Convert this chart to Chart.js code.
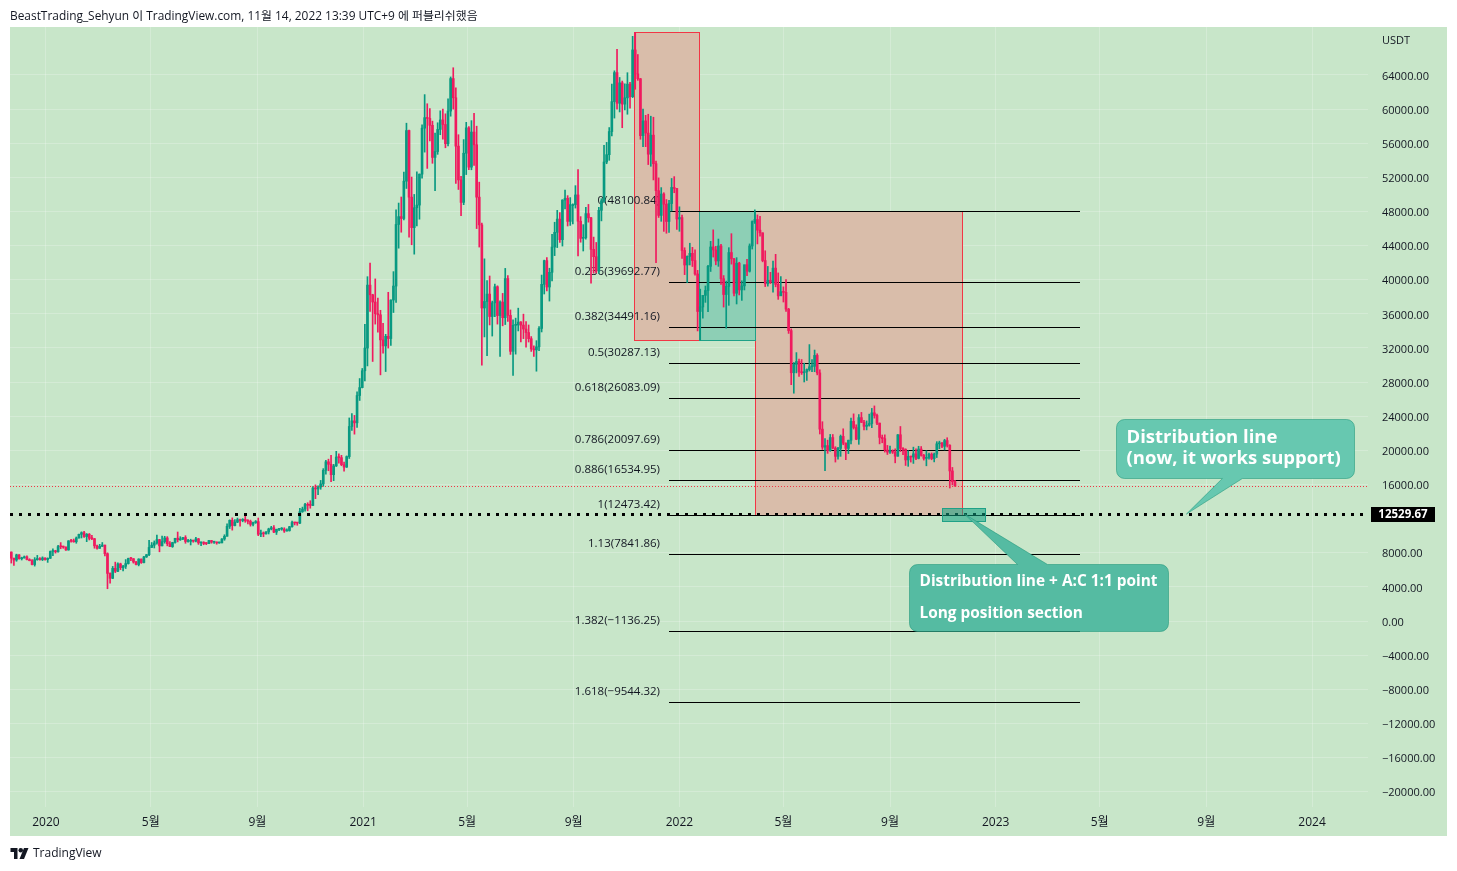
<!DOCTYPE html>
<html><head><meta charset="utf-8">
<script src="https://cdn.jsdelivr.net/npm/chart.js@4.4.1/dist/chart.umd.min.js"></script>
<style>
html,body{margin:0;padding:0;background:#fff;width:1457px;height:871px;overflow:hidden;}
#wrap{position:relative;width:1457px;height:871px;}
canvas{position:absolute;left:0;top:0;}
#title{position:absolute;left:10px;top:7px;font:11.9px "Open Sans","Noto Sans CJK KR",sans-serif;color:#131722;white-space:nowrap;line-height:16px;}
#foot{position:absolute;left:10px;top:845px;font:12px "Open Sans",sans-serif;color:#131722;display:flex;align-items:center;gap:4px;line-height:16px;}
</style></head><body>
<div id="wrap"><canvas id="c" width="1457" height="871"></canvas>
<div id="title">BeastTrading_Sehyun 이 TradingView.com, 11월 14, 2022 13:39 UTC+9 에 퍼블리쉬했음</div>
<div id="foot"><svg width="19" height="11" viewBox="0 0 36 22"><path d="M14 22H7V8H0V0h14z" fill="#131722"/><circle cx="20.5" cy="4.5" r="4.5" fill="#131722"/><path d="M27 22h-9L27 0h9z" fill="#131722"/></svg><span>TradingView</span></div>
</div>
<script>
// ---- DATA (3-day candles, BTC/USDT) ----
const firstCandle = '2019-11-21';
const candleSpan = 3;
const openP = [8080,7360,7150,7750,7300,7390,7520,7200,7070,6620,
7190,7320,7190,7390,7200,7350,8150,8190,8110,8720,
8700,8660,8330,9390,9350,9290,9730,10160,10350,9900,
10170,9690,9650,8810,8520,8750,8900,7890,5580,5010,
6170,5830,6690,6250,6410,6730,7330,7300,6910,6620,
7260,6850,7510,7770,8620,8890,9150,9540,8810,9310,
9730,9060,8720,9200,9700,9520,9620,9780,9320,9340,
9460,9360,9630,9160,9190,9090,9070,9430,9240,9250,
9150,9160,9610,9930,11100,11800,11190,11590,11880,11780,
11910,11750,11680,11330,11540,11650,10170,10250,10220,10440,
10790,10930,10420,10740,10770,10780,10550,10600,11050,11540,
11500,11480,12820,13120,13650,13560,13550,15590,15480,15700,
16070,17660,18660,18370,17150,18180,19220,19150,18320,18040,
19270,22800,23460,23230,26430,27360,29330,31990,39370,38240,
37390,36020,35890,32950,32250,33370,33110,37620,39260,46480,
47400,47180,51550,57490,49680,46110,48440,48750,52380,57770,
59000,58910,58100,54340,55030,57620,58730,58200,55950,59770,
63580,61330,55660,51700,49070,54830,57800,53200,57310,55820,
49680,46430,36690,37450,38320,35690,37300,39180,35800,37390,
35550,40140,35820,31610,34660,34700,35040,34690,34220,33810,
33090,31880,31780,32140,34290,39460,42240,39150,40870,43830,
45560,47110,44700,49340,49550,46840,48810,48810,49940,46860,
44850,44940,47750,47260,43560,42700,41030,48140,49250,53800,
54660,57370,60880,64280,60690,63080,60590,61320,62930,61460,
66940,64130,63560,56890,58620,57190,54720,56950,53600,50440,
47540,50050,48860,46830,48930,50820,50700,47120,47290,43430,
41730,42740,43100,42250,40680,36280,36810,38170,38740,41570,
43840,43500,42200,43960,40120,38270,39220,43190,42450,38420,
41940,38810,39280,41760,41000,43960,46820,47060,45810,45500,
42250,39530,39940,39680,41360,39460,38110,38600,38520,36550,
34040,29100,30080,30420,29200,29100,29200,29470,29800,29860,
31130,29080,22490,20380,20560,19970,21500,20280,19300,20230,
21640,20850,20230,21190,23400,22680,21310,23840,23290,22820,
22950,23150,24400,24100,23190,21520,21370,20040,19800,19950,
19800,19320,21830,20230,20110,18880,19290,19220,19590,19060,
20160,19420,19060,19180,19550,19040,19570,20770,20820,20480,
21150,20590,17590,16330];
const highP = [8100,7380,7830,7800,7480,7620,7650,7300,7200,7430,
7690,7440,7520,7400,7400,8210,8460,8290,8880,9190,
8780,8680,9420,9570,9610,9850,10180,10450,10500,10250,
10250,10030,9680,8900,8990,9200,8900,7990,5660,6400,
6900,6830,6780,6520,7200,7370,7460,7320,6990,7300,
7270,7570,7800,9460,9200,9390,10070,9570,9940,9930,
9890,9310,9230,9700,10430,9880,9800,10000,9580,9590,
9480,9800,9680,9240,9300,9200,9470,9450,9340,9270,
9250,9650,10110,11390,11860,12090,11900,12070,11940,12000,
12470,11880,11830,11590,11780,12070,10660,10440,10480,10880,
11100,11180,10770,10800,10950,10930,10800,11100,11720,11560,
11540,13220,13350,13790,13860,14100,15770,15960,15840,16480,
17860,18820,18970,19420,18360,19890,19600,19420,18640,19350,
23800,24300,24100,26870,28420,29600,34780,40360,41950,38300,
40100,37850,36420,34880,33600,38530,37660,40950,48200,48990,
49700,52620,58350,57530,52040,50000,52640,52400,58150,61700,
60630,60070,58590,57200,58400,59800,60000,59450,61200,63770,
64850,62500,57000,52130,56430,58450,57950,58650,59500,58000,
51440,46640,42450,39900,40440,37500,39480,39290,37530,38400,
41330,40500,36460,35300,35500,36670,35100,35970,35100,34700,
33340,32250,32860,34500,40550,42300,42600,41350,45310,46740,
48140,47880,49380,50500,49860,49630,48910,51030,52920,47400,
46460,48480,48830,47330,45000,44370,48500,49500,55750,56100,
57840,62930,64490,67000,63710,63290,62960,64270,63130,68530,
69000,66400,63600,60000,59270,59400,59170,59050,53900,51940,
50800,50200,49400,49300,51870,52090,50700,48550,47570,43750,
42800,44280,43800,43500,41100,38900,38030,39270,41700,44500,
45850,43920,44770,44150,40490,39840,43760,45400,42500,42590,
42050,39880,41720,42400,44200,46900,48190,47600,47440,45500,
43400,41560,40870,42200,42980,40800,40370,39170,40020,36650,
34240,30300,31460,30700,30650,30220,29550,32400,30650,31760,
31330,29450,23360,21370,21200,21870,21860,20430,20350,21800,
22530,20880,21200,23800,24280,23000,24200,24450,23510,23450,
24250,24920,25210,24240,23210,21800,21820,20580,20490,20060,
20180,21860,22800,20330,20190,19960,19320,20380,20180,20480,
20450,19530,19950,19670,19700,19690,21020,21080,20930,21300,
21480,20670,18000,16500];
const lowP = [6790,6515,7000,7250,7150,7370,7150,7050,6560,6435,
7120,7120,7080,7120,6870,7330,7670,7960,8080,8470,
8520,8260,8300,9230,9230,9110,9700,9730,9790,9300,
9500,9530,8530,8410,8510,8730,7630,3782,4440,4960,
5670,5770,6020,5860,6150,6670,7080,6780,6560,6460,
6750,6820,7450,7660,8610,8560,9020,8110,8790,9120,
8810,8700,8630,9110,9270,9450,9530,9110,9240,8910,
9230,9270,8980,8830,8940,8950,9050,9120,9100,9000,
9100,9150,9460,9930,10840,10650,11140,11530,11130,11630,
11570,11370,11120,11150,11440,10000,9880,9880,10180,10200,
10680,10360,10140,10590,10640,10380,10520,10530,11010,11260,
11220,11410,12730,12880,12920,13220,13520,14340,14800,15440,
15790,17210,17610,16330,16450,18110,18510,18200,17570,18000,
19050,22350,21900,22700,25850,27320,28130,29900,36300,30420,
34800,33850,28850,31390,29240,31990,32300,36160,37350,43700,
45570,47000,50700,45000,44100,43000,46300,47100,51900,54960,
53050,56270,53650,50430,54700,57000,56480,55470,55700,59170,
60000,51300,50580,47500,48800,52330,52900,52890,53400,46000,
43830,30000,33300,31100,34700,33400,35670,34800,31000,34600,
34750,35130,31250,28800,31280,34000,32700,33100,32100,32700,
31600,31020,29280,31700,33880,38330,38700,37500,39850,42830,
43770,44380,43950,48300,46300,46370,46530,48400,42800,44400,
43370,44750,46750,39600,40770,40800,40750,46900,49050,53600,
54000,56850,58950,60000,59670,57820,59920,59400,60100,61350,
62330,63370,56470,55600,55600,53500,53300,51700,42000,47300,
46850,45670,45450,45550,48050,50200,45900,45680,42500,40600,
39650,41730,41550,40550,34000,32920,35500,37350,36250,40970,
42660,41750,41570,39450,36800,34320,37000,41830,38100,37160,
38220,37580,38800,40470,40900,43600,46600,44200,45120,42100,
39200,39250,39550,38540,39170,37700,38180,37390,36300,33710,
27700,26700,29080,28680,28900,28020,28200,29300,29220,29220,
28850,21920,20110,17620,19650,19890,20180,18630,18970,19300,
20660,18910,19620,20760,22500,21250,20710,23250,22410,22400,
22840,22660,23780,23000,20760,20890,19800,19520,19640,19640,
18540,19310,19860,19500,18230,18130,18630,18470,18920,19000,
19320,18860,18190,18970,18900,18650,19160,20200,20330,20050,
20390,15590,15950,15820];
const closeP = [7360,7150,7750,7300,7390,7520,7200,7070,6620,7190,
7320,7190,7390,7200,7350,8150,8190,8110,8720,8700,
8660,8330,9390,9350,9290,9730,10160,10350,9900,10170,
9690,9650,8810,8520,8750,8900,7890,5580,5010,6170,
5830,6690,6250,6410,6730,7330,7300,6910,6620,7260,
6850,7510,7770,8620,8890,9150,9540,8810,9310,9730,
9060,8720,9200,9700,9520,9620,9780,9320,9340,9460,
9360,9630,9160,9190,9090,9070,9430,9240,9250,9150,
9160,9610,9930,11100,11800,11190,11590,11880,11780,11910,
11750,11680,11330,11540,11650,10170,10250,10220,10440,10790,
10930,10420,10740,10770,10780,10550,10600,11050,11540,11500,
11480,12820,13120,13650,13560,13550,15590,15480,15700,16070,
17660,18660,18370,17150,18180,19220,19150,18320,18040,19270,
22800,23460,23230,26430,27360,29330,31990,39370,38240,37390,
36020,35890,32950,32250,33370,33110,37620,39260,46480,47400,
47180,51550,57490,49680,46110,48440,48750,52380,57770,59000,
58910,58100,54340,55030,57620,58730,58200,55950,59770,63580,
61330,55660,51700,49070,54830,57800,53200,57310,55820,49680,
46430,36690,37450,38320,35690,37300,39180,35800,37390,35550,
40140,35820,31610,34660,34700,35040,34690,34220,33810,33090,
31880,31780,32140,34290,39460,42240,39150,40870,43830,45560,
47110,44700,49340,49550,46840,48810,48810,49940,46860,44850,
44940,47750,47260,43560,42700,41030,48140,49250,53800,54660,
57370,60880,64280,60690,63080,60590,61320,62930,61460,66940,
64130,63560,56890,58620,57190,54720,56950,53600,50440,47540,
50050,48860,46830,48930,50820,50700,47120,47290,43430,41730,
42740,43100,42250,40680,36280,36810,38170,38740,41570,43840,
43500,42200,43960,40120,38270,39220,43190,42450,38420,41940,
38810,39280,41760,41000,43960,46820,47060,45810,45500,42250,
39530,39940,39680,41360,39460,38110,38600,38520,36550,34040,
29100,30080,30420,29200,29100,29200,29470,29800,29860,31130,
29080,22490,20380,20560,19970,21500,20280,19300,20230,21640,
20850,20230,21190,23400,22680,21310,23840,23290,22820,22950,
23150,24400,24100,23190,21520,21370,20040,19800,19950,19800,
19320,21830,20230,20110,18880,19290,19220,19590,19060,20160,
19420,19060,19180,19550,19040,19570,20770,20820,20480,21150,
20590,17590,16330,15800];

const lastPrice = 15800;
const distributionPrice = 12529.67;

const xTickDates = ['2020-01-01','2020-05-01','2020-09-01','2021-01-01','2021-05-01','2021-09-01','2022-01-01','2022-05-01','2022-09-01','2023-01-01','2023-05-01','2023-09-01','2024-01-01'];
const xTickLabels = ['2020','5월','9월','2021','5월','9월','2022','5월','9월','2023','5월','9월','2024'];
const yTickValues = [64000,60000,56000,52000,48000,44000,40000,36000,32000,28000,24000,20000,16000,8000,4000,0,-4000,-8000,-12000,-16000,-20000];

const fibLevels = ['0','0.236','0.382','0.5','0.618','0.786','0.886','1','1.13','1.382','1.618'];
const fibPrices = [48100.84,39692.77,34491.16,30287.13,26083.09,20097.69,16534.95,12473.42,7841.86,-1136.25,-9544.32];
const fibFrom = '2021-12-20', fibTo = '2023-04-08';

const boxes = [
  {from:'2021-11-10', to:'2022-01-24', top:69000, bottom:32950, kind:'red'},
  {from:'2022-03-29', to:'2022-11-23', top:48100.84, bottom:12473.42, kind:'red'},
  {from:'2022-01-24', to:'2022-03-29', top:48100.84, bottom:32950, kind:'green'},
];
const zoneBox = {from:'2022-10-31', to:'2022-12-20', top:13245, bottom:11722};

const callouts = [
  {date:'2023-08-09', price:12529.67, lines:['Distribution line','(now, it works support)']},
  {date:'2022-11-26', price:12529.67, lines:['Distribution line + A:C 1:1 point','Long position section']},
];

// ---- helpers / styles ----
const DAY0 = Date.UTC(2020,0,1);
function dayNum(s){const p=s.split('-').map(Number);return Math.round((Date.UTC(p[0],p[1]-1,p[2])-DAY0)/864e5);}
const candleX = openP.map((_,i)=>dayNum(firstCandle)+candleSpan*i+1);
const UP='#089981', DOWN='#F01A5E', BG='#C8E6C9', TXT='#131722';
const FONT = "'Open Sans','Noto Sans CJK KR',sans-serif";
const minusFix = s => s.replace('-', '\u2212');
const colorFor = i => closeP[i] >= openP[i] ? UP : DOWN;

const calloutStyle = [
  {box:[-70,-95,168,-36], tail:[36,56], side:'bottom', fill:'#67C8B0', font:'bold 18.5px '+FONT, rows:[18,39], pad:10},
  {box:[-56,50,203,117], tail:[53,83], side:'top', fill:'#55BBA2', font:'bold 15.4px '+FONT, rows:[17,49], pad:10},
];

function calloutPath(ctx,l,t,r,b,rad,side,t1,t2,tx,ty){
  ctx.beginPath();
  ctx.moveTo(l+rad,t);
  if(side==='top'){ctx.lineTo(t1,t);ctx.lineTo(tx,ty);ctx.lineTo(t2,t);}
  ctx.lineTo(r-rad,t);ctx.arcTo(r,t,r,t+rad,rad);
  ctx.lineTo(r,b-rad);ctx.arcTo(r,b,r-rad,b,rad);
  if(side==='bottom'){ctx.lineTo(t2,b);ctx.lineTo(tx,ty);ctx.lineTo(t1,b);}
  ctx.lineTo(l+rad,b);ctx.arcTo(l,b,l,b-rad,rad);
  ctx.lineTo(l,t+rad);ctx.arcTo(l,t,l+rad,t,rad);
  ctx.closePath();
}

const drawings = {
  id:'drawings',
  beforeDraw(chart){
    const c=chart.ctx; c.save(); c.fillStyle=BG; c.fillRect(10,27,1437,809); c.restore();
  },
  beforeDatasetsDraw(chart){
    const {ctx, chartArea:a, scales:{x,y}} = chart;
    ctx.save();
    ctx.beginPath(); ctx.rect(a.left,a.top,a.right-a.left,a.bottom-a.top); ctx.clip();
    boxes.forEach(b=>{
      const x1=Math.round(x.getPixelForValue(dayNum(b.from))), x2=Math.round(x.getPixelForValue(dayNum(b.to)));
      const y1=Math.round(y.getPixelForValue(b.top)), y2=Math.round(y.getPixelForValue(b.bottom));
      ctx.fillStyle = b.kind==='red' ? '#D9BDAA' : '#8DCFB5';
      ctx.fillRect(x1,y1,x2-x1,y2-y1);
      ctx.strokeStyle = b.kind==='red' ? '#F23645' : '#1FA187';
      ctx.lineWidth=1;
      ctx.strokeRect(x1+0.5,y1+0.5,x2-x1,y2-y1);
    });
    const fx1=Math.round(x.getPixelForValue(dayNum(fibFrom))), fx2=Math.round(x.getPixelForValue(dayNum(fibTo)));
    ctx.font = '11.5px '+FONT; ctx.fillStyle=TXT; ctx.textAlign='right'; ctx.textBaseline='middle';
    fibPrices.forEach((p,i)=>{
      const py=Math.round(y.getPixelForValue(p))+0.5;
      ctx.strokeStyle='#000'; ctx.lineWidth=1;
      ctx.beginPath(); ctx.moveTo(fx1,py); ctx.lineTo(fx2,py); ctx.stroke();
      ctx.fillText(fibLevels[i]+'('+minusFix(p.toFixed(2))+')', fx1-9, py-10.5);
    });
    ctx.restore();
  },
  afterDatasetsDraw(chart){
    const {ctx, chartArea:a, scales:{x,y}} = chart;
    ctx.save();
    const lp=Math.round(y.getPixelForValue(lastPrice))+0.5;
    ctx.strokeStyle='#F23645'; ctx.lineWidth=1; ctx.setLineDash([1,2]);
    ctx.beginPath(); ctx.moveTo(a.left,lp); ctx.lineTo(a.right,lp); ctx.stroke();
    const dp=Math.round(y.getPixelForValue(distributionPrice));
    ctx.strokeStyle='#000'; ctx.lineWidth=3; ctx.setLineDash([3,6]);
    ctx.beginPath(); ctx.moveTo(a.left,dp+0.5); ctx.lineTo(a.right,dp+0.5); ctx.stroke();
    ctx.setLineDash([]);
    const zx1=Math.round(x.getPixelForValue(dayNum(zoneBox.from))), zx2=Math.round(x.getPixelForValue(dayNum(zoneBox.to)));
    const zy1=Math.round(y.getPixelForValue(zoneBox.top)), zy2=Math.round(y.getPixelForValue(zoneBox.bottom));
    ctx.fillStyle='rgba(16,160,130,0.55)'; ctx.fillRect(zx1,zy1,zx2-zx1,zy2-zy1);
    ctx.strokeStyle='#1FA187'; ctx.lineWidth=1; ctx.strokeRect(zx1+0.5,zy1+0.5,zx2-zx1,zy2-zy1);
    callouts.forEach((c,k)=>{
      const s=calloutStyle[k];
      const tx=x.getPixelForValue(dayNum(c.date)), ty=y.getPixelForValue(c.price);
      const l=Math.round(tx+s.box[0])+0.5, t=Math.round(ty+s.box[1])+0.5, r=Math.round(tx+s.box[2])+0.5, b=Math.round(ty+s.box[3])+0.5;
      calloutPath(ctx,l,t,r,b,8,s.side,tx+s.tail[0],tx+s.tail[1],tx,ty);
      ctx.fillStyle=s.fill; ctx.fill();
      ctx.strokeStyle='rgba(30,150,120,0.55)'; ctx.lineWidth=1; ctx.stroke();
      ctx.fillStyle='#fff'; ctx.font=s.font; ctx.textAlign='left'; ctx.textBaseline='middle';
      c.lines.forEach((ln,j)=>ctx.fillText(ln, l+s.pad, t+s.rows[j]));
    });
    ctx.fillStyle='#000'; ctx.fillRect(a.right+3, dp-7, 64, 15);
    ctx.fillStyle='#fff'; ctx.font='bold 11.5px '+FONT; ctx.textAlign='center'; ctx.textBaseline='middle';
    ctx.fillText(distributionPrice.toFixed(2), a.right+35, dp+0.5);
    ctx.fillStyle=TXT; ctx.font='11px '+FONT; ctx.textAlign='left';
    ctx.fillText('USDT', a.right+14, 41);
    ctx.restore();
  }
};

const xMin=-41.5, xMax=1525.6, yMin=-21802, yMax=69626;
const gridColor='rgba(255,255,255,0.22)';

new Chart(document.getElementById('c'), {
  type:'bar',
  data:{datasets:[
    {label:'body', data:candleX.map((d,i)=>({x:d,y:[openP[i],closeP[i]]})), backgroundColor:ctx=>colorFor(ctx.dataIndex), barThickness:2, grouped:false, minBarLength:1, borderWidth:0, borderSkipped:false},
    {label:'wick', data:candleX.map((d,i)=>({x:d,y:[lowP[i],highP[i]]})), backgroundColor:ctx=>colorFor(ctx.dataIndex), barThickness:1, grouped:false, borderWidth:0, borderSkipped:false}
  ]},
  options:{
    responsive:false, animation:false, devicePixelRatio:1,
    layout:{padding:{left:10,top:27,right:10,bottom:35}},
    plugins:{legend:{display:false},tooltip:{enabled:false}},
    scales:{
      x:{type:'linear', min:xMin, max:xMax, offset:false,
        grid:{color:gridColor, drawTicks:false, offset:false}, border:{display:false},
        afterBuildTicks:s=>{s.ticks=xTickDates.map(d=>({value:dayNum(d)}));},
        afterFit:s=>{s.height=29;},
        ticks:{autoSkip:false, maxRotation:0, padding:8, color:TXT, font:{family:FONT,size:12}, callback:(v,i)=>xTickLabels[i]}
      },
      y:{type:'linear', position:'right', min:yMin, max:yMax,
        grid:{color:gridColor, drawTicks:false}, border:{display:false},
        afterBuildTicks:s=>{s.ticks=yTickValues.map(v=>({value:v}));},
        afterFit:s=>{s.width=79;},
        ticks:{padding:14, labelOffset:1.5, color:TXT, font:{family:FONT,size:11}, callback:v=>minusFix(Number(v).toFixed(2))}
      }
    }
  },
  plugins:[drawings]
});
</script>
</body></html>
